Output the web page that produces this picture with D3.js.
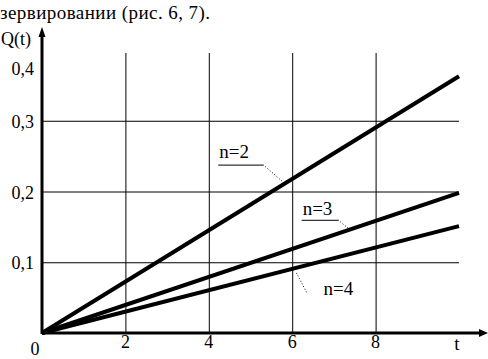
<!DOCTYPE html>
<html>
<head>
<meta charset="utf-8">
<script src="https://cdn.jsdelivr.net/npm/d3@7"></script>
</head>
<body style="margin:0">
<div class="canvas"></div>
<script>
// data
const tDomain = [0, 10];
const xTicks = [2, 4, 6, 8];
const yTicks = [0.1, 0.2, 0.3, 0.4];
const yTickLabels = ['0,1', '0,2', '0,3', '0,4'];
const seriesNames = ['n=2', 'n=3', 'n=4'];
const seriesEnd = [0.363, 0.198, 0.151]; // Q(t) at t = 10, lines start at 0
const series = seriesNames.map((name, i) => ({
  name,
  points: [[0, 0], [10, seriesEnd[i]]]
}));

// label anchors in data units: text pos, leader start, leader end
const labelNames = ['n=2', 'n=3', 'n=4'];
const labelAt = [[4.25, 0.247], [6.25, 0.167], [6.75, 0.054]];
const leaderFrom = [[5.3, 0.238], [7.1, 0.160], [6.1, 0.085]];
const leaderTo = [[5.75, 0.215], [7.4, 0.145], [6.35, 0.057]];
const underlined = [true, true, false];

const dims = { width: 488, height: 359 };
const font = 'Liberation Serif, Times New Roman, serif';

const svg = d3.select('.canvas')
  .append('svg')
  .attr('width', dims.width)
  .attr('height', dims.height)
  .style('display', 'block');

const x = d3.scaleLinear().domain(tDomain).range([42, 459]);
const y = d3.scaleLinear().domain([0, 0.4]).range([333, 50]);

const addText = (sel, size) => sel.append('text')
  .style('font-family', font)
  .style('font-size', size + 'px');

// text of the page above the figure
addText(svg, 19)
  .attr('x', 0)
  .attr('y', 19)
  .attr('textLength', 210)
  .text('зервировании (рис. 6, 7).');

// grid
const grid = svg.append('g').attr('stroke', '#000').attr('stroke-width', 1);

grid.selectAll('line.v')
  .data(xTicks)
  .enter().append('line')
    .attr('class', 'v')
    .attr('x1', d => x(d) + 0.5).attr('x2', d => x(d) + 0.5)
    .attr('y1', y(0)).attr('y2', y(0.4) + 3);

grid.selectAll('line.h')
  .data(yTicks.slice(0, 3))
  .enter().append('line')
    .attr('class', 'h')
    .attr('x1', x(0)).attr('x2', x(10))
    .attr('y1', d => y(d) + 0.5).attr('y2', d => y(d) + 0.5);

// axes with arrows
svg.append('line')
  .attr('x1', x(0)).attr('x2', x(0))
  .attr('y1', y(0) + 1).attr('y2', 34)
  .attr('stroke', '#000').attr('stroke-width', 3);
svg.append('path')
  .attr('d', `M${x(0) - 3.5},37 L${x(0)},27 L${x(0) + 3.5},37 Z`)
  .attr('fill', '#000');

svg.append('line')
  .attr('x1', x(0)).attr('x2', 482)
  .attr('y1', y(0)).attr('y2', y(0))
  .attr('stroke', '#000').attr('stroke-width', 3);
svg.append('path')
  .attr('d', `M479,${y(0) - 4} L488,${y(0)} L479,${y(0) + 4} Z`)
  .attr('fill', '#000');

// tick labels
yTicks.forEach((v, i) => {
  addText(svg, 18)
    .attr('x', 34)
    .attr('y', y(v) + (i === 3 ? 25 : 7))
    .attr('text-anchor', 'end')
    .text(yTickLabels[i]);
});

xTicks.forEach(v => {
  addText(svg, 18)
    .attr('x', x(v))
    .attr('y', 348)
    .attr('text-anchor', 'middle')
    .text(v);
});

addText(svg, 18)
  .attr('x', 35).attr('y', 355)
  .attr('text-anchor', 'middle')
  .text('0');

addText(svg, 19)
  .attr('x', 457).attr('y', 350)
  .attr('text-anchor', 'middle')
  .text('t');

addText(svg, 18)
  .attr('x', 1).attr('y', 45)
  .text('Q(t)');

// series lines
const line = d3.line().x(d => x(d[0])).y(d => y(d[1]));

svg.selectAll('path.series')
  .data(series)
  .enter().append('path')
    .attr('class', 'series')
    .attr('d', d => line(d.points))
    .attr('fill', 'none')
    .attr('stroke', '#000')
    .attr('stroke-width', 4);

// curve labels
labelNames.forEach((name, i) => {
  addText(svg, 19)
    .attr('x', x(labelAt[i][0]))
    .attr('y', y(labelAt[i][1]))
    .text(name);

  if (underlined[i]) {
    svg.append('line')
      .attr('x1', x(labelAt[i][0]) - 1)
      .attr('x2', x(leaderFrom[i][0]))
      .attr('y1', y(leaderFrom[i][1]) + 0.5)
      .attr('y2', y(leaderFrom[i][1]) + 0.5)
      .attr('stroke', '#000').attr('stroke-width', 1);
  }

  svg.append('line')
    .attr('x1', x(leaderFrom[i][0]))
    .attr('y1', y(leaderFrom[i][1]))
    .attr('x2', x(leaderTo[i][0]))
    .attr('y2', y(leaderTo[i][1]))
    .attr('stroke', '#000').attr('stroke-width', 1)
    .attr('stroke-dasharray', '1,2');
});
</script>
</body>
</html>
